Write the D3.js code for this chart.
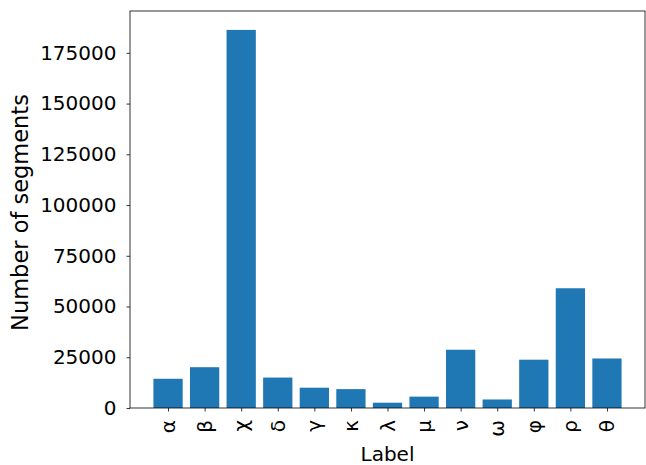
<!DOCTYPE html>
<html>
<head>
<meta charset="utf-8">
<script src="https://cdn.jsdelivr.net/npm/d3@7"></script>
<style>
  body { margin: 0; background: #fff; }
  text { font-family: "DejaVu Sans", sans-serif; fill: #000; }
</style>
</head>
<body>
<div id="chart"></div>
<script>
// datos
const labels = ["α", "β", "χ", "δ", "γ", "κ", "λ", "μ", "ν", "ω", "φ", "ρ", "θ"]
const counts = [14400, 20100, 186300, 15000, 10000, 9300, 2600, 5600, 28700, 4200, 23800, 59000, 24400]
const yTicks = [0, 25000, 50000, 75000, 100000, 125000, 150000, 175000]

const W = 646
const H = 465
const margins = { top: 11, right: 1, bottom: 57, left: 130 }
const ancho = W - margins.left - margins.right
const alto = H - margins.top - margins.bottom

const svg = d3.select("#chart")
  .append("svg")
  .attr("width", W)
  .attr("height", H)

const g = svg.append("g")
  .attr("transform", `translate(${margins.left}, ${margins.top})`)

// escalas estilo matplotlib (barras de ancho 0.8, margen 5%)
const n = labels.length
const xmin = -0.4, xmax = n - 1 + 0.4
const pad = (xmax - xmin) * 0.05
const x = d3.scaleLinear()
  .domain([xmin - pad, xmax + pad])
  .range([0, ancho])
const y = d3.scaleLinear()
  .domain([0, d3.max(counts) * 1.05])
  .range([alto, 0])

const data = labels.map((l, i) => ({ label: l, i: i, value: counts[i] }))

g.selectAll("rect.bar")
  .data(data)
  .enter()
  .append("rect")
  .attr("class", "bar")
  .attr("x", (d) => x(d.i - 0.4))
  .attr("y", (d) => y(d.value))
  .attr("width", x(0.8) - x(0))
  .attr("height", (d) => alto - y(d.value))
  .attr("fill", "#1f77b4")

// eje y
const yAxis = d3.axisLeft(y)
  .tickValues(yTicks)
  .tickFormat(d3.format("d"))
  .tickSize(3.5)
  .tickPadding(10)
const yG = g.append("g").call(yAxis)
yG.select(".domain").remove()
yG.selectAll("line").attr("stroke", "#000").attr("stroke-width", 0.8)
yG.selectAll("text")
  .style("font-family", "DejaVu Sans")
  .style("font-size", "20px")
  .attr("fill", "#000")

// eje x
const xAxis = d3.axisBottom(x)
  .tickValues(d3.range(n))
  .tickFormat((i) => labels[i])
  .tickSize(3.5)
  .tickPadding(0)
const xG = g.append("g")
  .attr("transform", `translate(0, ${alto})`)
  .call(xAxis)
xG.select(".domain").remove()
xG.selectAll("line").attr("stroke", "#000").attr("stroke-width", 0.8)
xG.selectAll("text")
  .style("font-family", "DejaVu Sans")
  .style("font-size", "20px")
  .attr("fill", "#000")
  .style("text-anchor", "end")
  .attr("x", -12)
  .attr("y", 0)
  .attr("dy", "0.33em")
  .attr("transform", "rotate(-90)")

// marco
g.append("rect")
  .attr("x", 0)
  .attr("y", 0)
  .attr("width", ancho)
  .attr("height", alto)
  .attr("fill", "none")
  .attr("stroke", "#000")
  .attr("stroke-width", 0.8)

// titulos de ejes
svg.append("text")
  .attr("x", margins.left + ancho / 2)
  .attr("y", 461)
  .attr("text-anchor", "middle")
  .style("font-size", "20px")
  .text("Label")

svg.append("text")
  .attr("transform", `translate(28, ${margins.top + alto / 2 + 3}) rotate(-90)`)
  .attr("text-anchor", "middle")
  .style("font-size", "22.5px")
  .text("Number of segments")
</script>
</body>
</html>
